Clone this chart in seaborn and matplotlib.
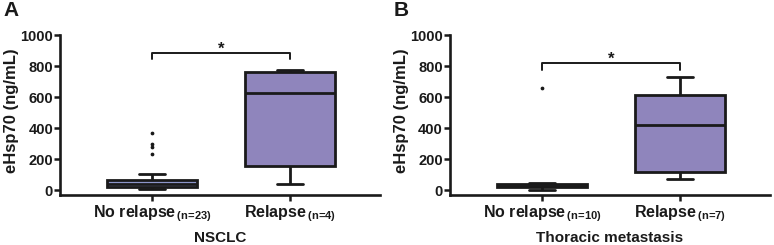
import numpy as np
import matplotlib
matplotlib.use("Agg")
import matplotlib.pyplot as plt
import pandas as pd
import seaborn as sns

# --- values (ng/mL) ---
nsclc_no_relapse = [4, 8, 10, 13, 15, 17, 19, 22, 26, 30, 35, 39,
                    44, 50, 55, 60, 66, 70, 103, 230, 280, 297, 370]
nsclc_relapse = [37, 157, 624, 763, 774]
thor_no_relapse = [0, 12, 16, 20, 26, 30, 37, 40, 47, 660]
thor_relapse = [69, 100, 128, 419, 600, 630, 731]

groups = ["No relapse", "Relapse"]
nsclc_n = [23, 4]
thor_n = [10, 7]
nsclc_colors = ["#8c95c9", "#8f85bc"]
thor_colors = ["#8c95c9", "#8f85bc"]

SIG_Y = [(882, 845), (820, 775)]
STAR_Y = [905, 843]

sns.set_style("ticks")
plt.rcParams["font.family"] = ["Liberation Sans", "DejaVu Sans"]
plt.rcParams["font.weight"] = "bold"
plt.rcParams["mathtext.fontset"] = "custom"
plt.rcParams["mathtext.rm"] = "Liberation Sans:bold"
plt.rcParams["mathtext.bf"] = "Liberation Sans:bold"

INK = "#1a1a1a"

fig = plt.figure(figsize=(7.74, 2.45), dpi=100)
ax_a = fig.add_axes([0.0775, 0.204, 0.4135, 0.653])
ax_b = fig.add_axes([0.581, 0.204, 0.414, 0.653])

panels = [
    (ax_a, nsclc_no_relapse, nsclc_relapse, nsclc_n, nsclc_colors, "NSCLC", 0),
    (ax_b, thor_no_relapse, thor_relapse, thor_n, thor_colors, "Thoracic metastasis", 1),
]

for ax, no_rel, rel, ns, cols, xlabel, k in panels:
    df = pd.DataFrame({
        "group": [groups[0]] * len(no_rel) + [groups[1]] * len(rel),
        "value": no_rel + rel,
    })
    sns.boxplot(data=df, x="group", y="value", hue="group", palette=cols,
                order=groups, hue_order=groups, width=0.65, linewidth=2,
                linecolor=INK, saturation=1, legend=False, capwidths=0.19,
                flierprops=dict(marker="o", markerfacecolor=INK,
                                markeredgecolor=INK, markersize=1.7),
                ax=ax)
    ax.set_xlim(-0.667, 1.65)
    ax.set_ylim(-32, 1000)
    ax.set_yticks([0, 200, 400, 600, 800, 1000])
    ax.set_xticks([0, 1])
    ax.set_xticklabels([g + r"$_{\,\text{(n=" + str(n) + r")}}$"
                        for g, n in zip(groups, ns)])
    ax.tick_params(axis="both", width=1.8, length=4, color=INK,
                   labelcolor=INK)
    ax.tick_params(axis="x", labelsize=11.5, pad=2)
    ax.tick_params(axis="y", labelsize=10.5, pad=1)
    for lab in ax.get_xticklabels() + ax.get_yticklabels():
        lab.set_fontweight("bold")
    ax.set_ylabel("eHsp70 (ng/mL)", fontsize=12, fontweight="bold", color=INK)
    ax.yaxis.set_label_coords(-0.128, 0.53)
    ax.set_xlabel(xlabel, fontsize=11, fontweight="bold", color=INK)
    ax.xaxis.set_label_coords(0.5, -0.228)
    for s in ["left", "bottom"]:
        ax.spines[s].set_linewidth(1.9)
        ax.spines[s].set_color(INK)
    sns.despine(ax=ax)

    # significance bracket
    top, foot = SIG_Y[k]
    ax.plot([0, 0, 1, 1], [foot, top, top, foot], color=INK, lw=1.4,
            clip_on=False)
    ax.text(0.5, STAR_Y[k], "*", ha="center", va="center", fontsize=12,
            fontweight="bold", color=INK)

fig.text(0.004, 0.995, "A", fontsize=15, fontweight="bold", va="top", color=INK)
fig.text(0.508, 0.995, "B", fontsize=15, fontweight="bold", va="top", color=INK)

fig.savefig("out.png", dpi=100)
